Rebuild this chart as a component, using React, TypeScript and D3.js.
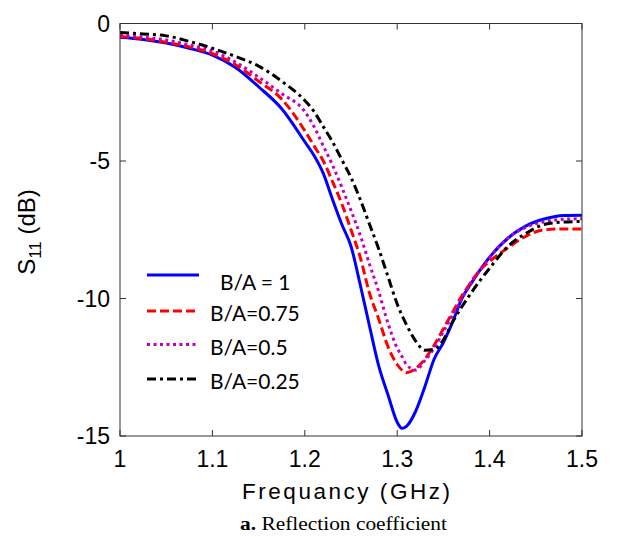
import React from "react";
import * as d3 from "d3";

const freq = [1.0, 1.025, 1.05, 1.075, 1.1, 1.125, 1.15, 1.175, 1.2, 1.21, 1.22, 1.23, 1.24, 1.25, 1.26, 1.27, 1.28, 1.29, 1.3, 1.305, 1.31, 1.32, 1.33, 1.34, 1.35, 1.36, 1.37, 1.38, 1.39, 1.4, 1.42, 1.44, 1.46, 1.48, 1.5];

const s11_ba1 = [-0.5, -0.58, -0.71, -0.9, -1.15, -1.6, -2.3, -3.1, -4.3, -4.8, -5.45, -6.4, -7.3, -8.1, -9.5, -11.0, -12.45, -13.5, -14.5, -14.72, -14.65, -14.1, -13.2, -12.2, -11.6, -10.85, -10.0, -9.45, -8.95, -8.5, -7.8, -7.35, -7.1, -6.98, -6.97];
const s11_ba075 = [-0.47, -0.55, -0.68, -0.85, -1.1, -1.5, -2.1, -2.75, -3.9, -4.45, -5.0, -5.75, -6.55, -7.5, -8.5, -9.8, -10.75, -11.75, -12.4, -12.6, -12.7, -12.55, -12.2, -11.7, -11.1, -10.5, -9.9, -9.4, -8.95, -8.65, -8.15, -7.72, -7.5, -7.47, -7.47];
const s11_ba05 = [-0.42, -0.5, -0.6, -0.78, -1.0, -1.4, -1.95, -2.55, -3.2, -3.75, -4.45, -5.15, -5.95, -6.8, -7.7, -8.75, -9.75, -10.9, -11.8, -12.1, -12.4, -12.6, -12.25, -11.8, -11.2, -10.6, -10.0, -9.4, -8.95, -8.5, -7.8, -7.4, -7.2, -7.12, -7.1];
const s11_ba025 = [-0.33, -0.38, -0.45, -0.65, -0.9, -1.2, -1.55, -2.1, -2.8, -3.2, -3.75, -4.3, -4.95, -5.6, -6.4, -7.3, -8.2, -9.2, -10.2, -10.6, -10.95, -11.55, -11.88, -11.85, -11.5, -10.85, -10.3, -9.8, -9.33, -8.9, -8.1, -7.62, -7.3, -7.22, -7.2];

const seriesNames = ["B/A = 1", "B/A=0.75", "B/A=0.5", "B/A=0.25"];
const xTicks = [1, 1.1, 1.2, 1.3, 1.4, 1.5];
const xTickLabels = ["1", "1.1", "1.2", "1.3", "1.4", "1.5"];
const yTicks = [0, -5, -10, -15];
const yTickLabels = ["0", "-5", "-10", "-15"];

const W = 619;
const H = 538;
const L = 120, R = 582, T = 23.5, B = 436;

const styles = [
  { color: "#0000ff", dash: "" },
  { color: "#ff0000", dash: "9,4" },
  { color: "#c000c8", dash: "3,3.5" },
  { color: "#000000", dash: "9,4,3,4" },
];

export default function App() {
  const x = d3.scaleLinear().domain([1, 1.5]).range([L, R]);
  const y = d3.scaleLinear().domain([-15, 0]).range([B, T]);
  const allSeries = [s11_ba1, s11_ba075, s11_ba05, s11_ba025];
  const line = d3
    .line<[number, number]>()
    .x((d) => x(d[0]))
    .y((d) => y(d[1]))
    .curve(d3.curveMonotoneX);

  const sans = "'Liberation Sans', Arial, sans-serif";
  const legendY = [275, 311, 344.5, 379];
  const legendTextX = [220, 210, 210, 210];

  return (
    <svg
      width={W}
      height={H}
      style={{ position: "absolute", left: 0, top: 0, background: "#fff" }}
    >
      <rect x={0} y={0} width={W} height={H} fill="#fff" />
      <defs>
        <clipPath id="plotclip">
          <rect x={L} y={T} width={R - L} height={B - T} />
        </clipPath>
      </defs>
      <g clipPath="url(#plotclip)">
        {allSeries.map((vals, i) => (
          <path
            key={i}
            d={line(freq.map((f, j) => [f, vals[j]] as [number, number])) || ""}
            fill="none"
            stroke={styles[i].color}
            strokeWidth={3}
            strokeDasharray={styles[i].dash || undefined}
            strokeLinejoin="round"
          />
        ))}
      </g>
      <rect x={L} y={T} width={R - L} height={B - T} fill="none" stroke="#333" strokeWidth={1} />
      {xTicks.map((t, i) => (
        <g key={"xt" + i}>
          <line x1={x(t)} x2={x(t)} y1={B} y2={B - 6} stroke="#333" strokeWidth={1} />
          <line x1={x(t)} x2={x(t)} y1={T} y2={T + 6} stroke="#333" strokeWidth={1} />
          <text x={x(t)} y={467} textAnchor="middle" fontFamily={sans} fontSize={23} fill="#000">
            {xTickLabels[i]}
          </text>
        </g>
      ))}
      {yTicks.map((t, i) => (
        <g key={"yt" + i}>
          <line x1={L} x2={L + 6} y1={y(t)} y2={y(t)} stroke="#333" strokeWidth={1} />
          <line x1={R} x2={R - 6} y1={y(t)} y2={y(t)} stroke="#333" strokeWidth={1} />
          <text x={110} y={y(t)} dy="0.36em" textAnchor="end" fontFamily={sans} fontSize={23} fill="#000">
            {yTickLabels[i]}
          </text>
        </g>
      ))}
      <text x={242} y={499} fontFamily={sans} fontSize={22.5} textLength={208} lengthAdjust="spacing" fill="#000">
        Frequancy (GHz)
      </text>
      <text
        transform="translate(35,232) rotate(-90)"
        textAnchor="middle"
        fontFamily={sans}
        fontSize={24}
        fill="#000"
      >
        S
        <tspan fontSize={17} dy={6}>11</tspan>
        <tspan dy={-6}>{"\u00a0(dB)"}</tspan>
      </text>
      {seriesNames.map((name, i) => (
        <g key={"lg" + i}>
          <line
            x1={147}
            x2={199}
            y1={legendY[i]}
            y2={legendY[i]}
            stroke={styles[i].color}
            strokeWidth={3}
            strokeDasharray={styles[i].dash || undefined}
          />
          <text
            x={legendTextX[i]}
            y={legendY[i] + (i === 0 ? 8 : 3)}
            dy="0.35em"
            fontFamily="Lato, 'Open Sans', sans-serif"
            fontSize={21}
            fill="#000"
          >
            {name}
          </text>
        </g>
      ))}
      <text
        x={240}
        y={530}
        fontFamily="'Liberation Serif', 'Times New Roman', serif"
        fontSize={18.5}
        textLength={207}
        lengthAdjust="spacingAndGlyphs"
        fill="#000"
      >
        <tspan fontWeight="bold">a.</tspan>
        {" Reflection coefficient"}
      </text>
    </svg>
  );
}
